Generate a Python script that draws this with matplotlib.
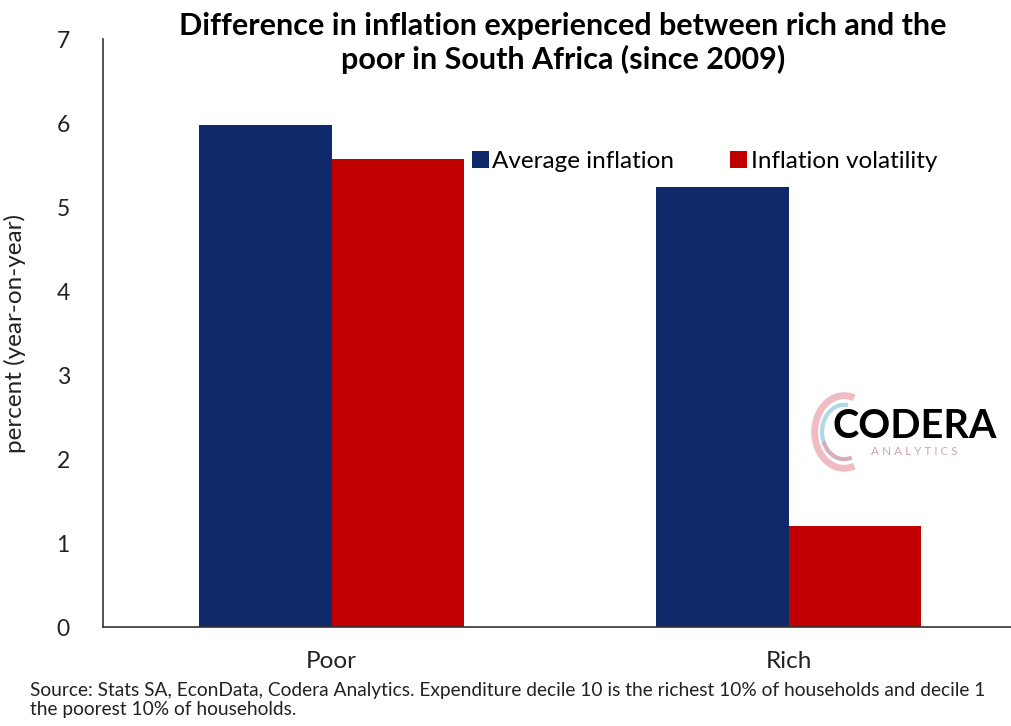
import matplotlib.pyplot as plt
import matplotlib.patches as patches
import numpy as np

# --- Daten ---
categories = ['Poor', 'Rich']
series_names = ['Average inflation', 'Inflation volatility']
avg_inflation = [5.98, 5.24]
inflation_vol = [5.57, 1.21]
y_ticks = [0, 1, 2, 3, 4, 5, 6, 7]

navy = '#0E2A6A'
red = '#C00000'

plt.rcParams['font.family'] = ['Lato', 'DejaVu Sans']

fig = plt.figure(figsize=(10.11, 7.26), dpi=100)
ax = fig.add_axes([0.102, 0.136, 0.904, 0.81])

x = np.arange(len(categories))
w = 0.29
ax.bar(x - w / 2, avg_inflation, w, color=navy, label=series_names[0])
ax.bar(x + w / 2, inflation_vol, w, color=red, label=series_names[1])

ax.set_xlim(-0.5, 1.5)
ax.set_ylim(0, 7)
ax.set_yticks(y_ticks)
ax.set_xticks(x)
ax.set_xticklabels(categories, fontsize=17.5)
ax.tick_params(axis='y', labelsize=16.5, length=0, pad=24, colors='#222222')
ax.tick_params(axis='x', length=0, pad=17, colors='#222222')
for s in ['top', 'right']:
    ax.spines[s].set_visible(False)
for s in ['left', 'bottom']:
    ax.spines[s].set_color('#333333')
    ax.spines[s].set_linewidth(1.2)
ax.set_ylabel('percent (year-on-year)', fontsize=17.5, labelpad=22, color='#222222')

fig.text(0.557, 0.983, 'Difference in inflation experienced between rich and the\npoor in South Africa (since 2009)',
         ha='center', va='top', fontsize=22, fontweight='bold', linespacing=1.2)

fig.legend(loc='upper left', bbox_to_anchor=(0.457, 0.805), ncol=2, frameon=False,
           fontsize=17.5, handlelength=0.7, handleheight=0.7, handletextpad=0.15,
           columnspacing=2.3, borderaxespad=0)

# Logo (grob nachgebaut)
fig.text(0.823, 0.413, 'CODERA', fontsize=28.5, fontweight='bold', color='black', ha='left', va='center')
fig.text(0.862, 0.378, 'A N A L Y T I C S', fontsize=8.5, color='#c9a8b4', ha='left', va='center')
lax = fig.add_axes([0.800, 0.345, 0.07, 0.12])
lax.set_xlim(-1.2, 1.2)
lax.set_ylim(-1.2, 1.2)
lax.axis('off')
lax.add_patch(patches.Arc((0, 0), 2.0, 2.0, theta1=70, theta2=290, color='#e8a0a8', lw=5, alpha=0.7))
lax.add_patch(patches.Arc((0, 0), 1.5, 1.5, theta1=80, theta2=200, color='#8ec8df', lw=3, alpha=0.7))
lax.add_patch(patches.Arc((0, 0), 1.5, 1.5, theta1=200, theta2=290, color='#c58ba0', lw=3, alpha=0.7))

fig.text(0.03, 0.036, 'Source: Stats SA, EconData, Codera Analytics. Expenditure decile 10 is the richest 10% of households and decile 1\nthe poorest 10% of households.',
         ha='left', va='center', fontsize=13.8, color='#222222', linespacing=1.15)

fig.savefig('out.png', dpi=100)
